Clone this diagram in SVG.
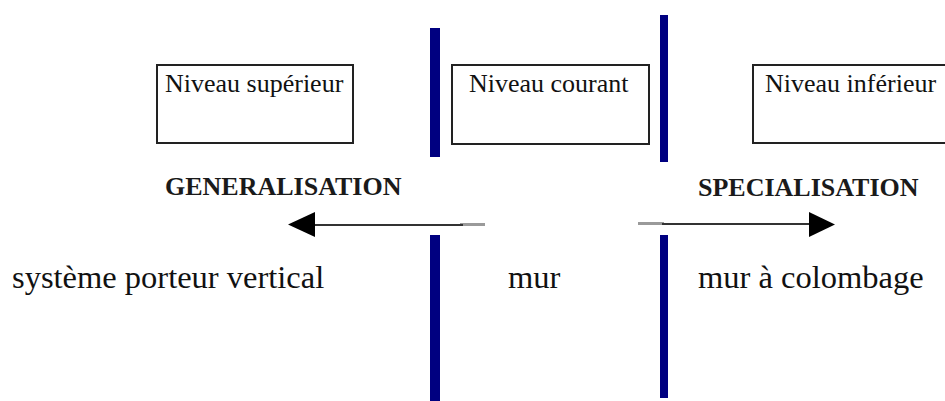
<svg xmlns="http://www.w3.org/2000/svg" width="945" height="401" viewBox="0 0 945 401">
  <style>
    .box { fill: #ffffff; stroke: #222222; stroke-width: 2; }
    .lbl { font-family: "Liberation Serif", "Times New Roman", serif; font-size: 26px; fill: #111111; }
    .head { font-family: "Liberation Serif", "Times New Roman", serif; font-size: 26px; font-weight: bold; fill: #1a1a1a; }
    .big { font-family: "Liberation Serif", "Times New Roman", serif; font-size: 32.5px; fill: #111111; }
    .wall { fill: #000080; }
    .line { stroke: #333333; stroke-width: 2.2; fill: none; }
    .fade { stroke: #9a9a9a; stroke-width: 3; fill: none; }
    .tip { fill: #000000; }
  </style>
  <rect width="945" height="401" fill="#ffffff"/>

  <g id="walls">
    <rect class="wall" x="430" y="28" width="10" height="129"/>
    <rect class="wall" x="430" y="235" width="10" height="166"/>
    <rect class="wall" x="660" y="15" width="8" height="147"/>
    <rect class="wall" x="660" y="235" width="8" height="163"/>
  </g>

  <g id="niveau-superieur">
    <rect class="box" x="157" y="65" width="196" height="78"/>
    <text class="lbl" x="165" y="92">Niveau supérieur</text>
  </g>
  <g id="niveau-courant">
    <rect class="box" x="452" y="65" width="197" height="79"/>
    <text class="lbl" x="469" y="92">Niveau courant</text>
  </g>
  <g id="niveau-inferieur">
    <rect class="box" x="753" y="65" width="200" height="78"/>
    <text class="lbl" x="765" y="92">Niveau inférieur</text>
  </g>

  <g id="generalisation">
    <text class="head" x="165" y="195">GENERALISATION</text>
  </g>
  <g id="specialisation">
    <text class="head" x="698" y="196">SPECIALISATION</text>
  </g>

  <g id="connectors">
    <line class="fade" x1="460" y1="224.5" x2="485" y2="224.5"/>
    <line class="line" x1="312" y1="225" x2="463" y2="225"/>
    <polygon class="tip" points="288,224.5 315,212 315,237"/>
    <line class="fade" x1="638" y1="223.5" x2="664" y2="223.5"/>
    <line class="line" x1="662" y1="224" x2="812" y2="224"/>
    <polygon class="tip" points="835,224.5 809,212 809,237"/>
  </g>

  <g id="systeme-porteur-vertical">
    <text class="big" x="12" y="288">système porteur vertical</text>
  </g>
  <g id="mur">
    <text class="big" x="508" y="288">mur</text>
  </g>
  <g id="mur-a-colombage">
    <text class="big" x="698" y="288">mur à colombage</text>
  </g>
</svg>
